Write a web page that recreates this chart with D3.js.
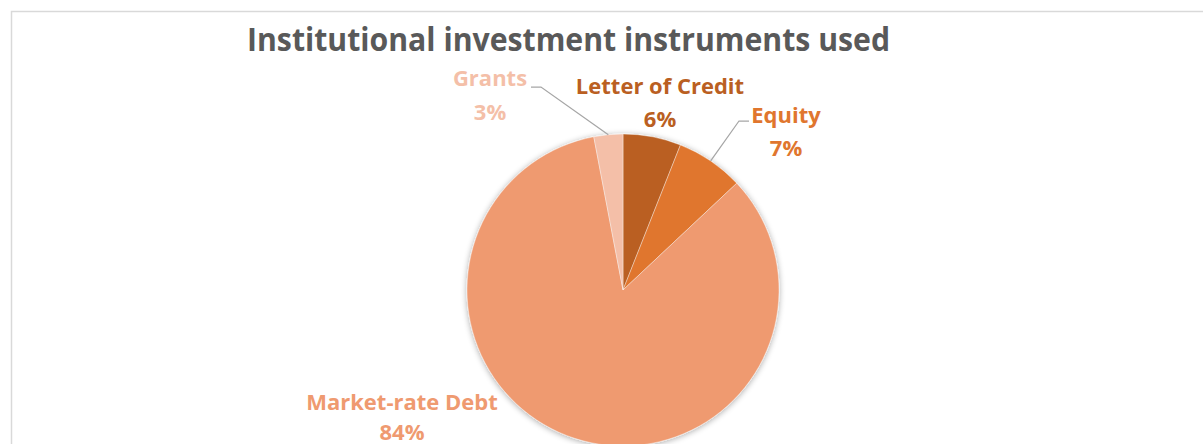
<!DOCTYPE html>
<html>
<head>
<meta charset="utf-8">
<script src="https://cdn.jsdelivr.net/npm/d3@7"></script>
<style>
  html, body { margin: 0; padding: 0; background: #fff; }
  svg { display: block; }
  text { font-family: "Open Sans", Lato, sans-serif; font-weight: bold; }
</style>
</head>
<body>
<svg id="chart" width="1203" height="444"></svg>
<script>
// ---- data ----
const categories = ["Letter of Credit", "Equity", "Market-rate Debt", "Grants"];
const values = [6, 7, 84, 3];
const percentLabels = ["6%", "7%", "84%", "3%"];
const colors = ["#BA5F22", "#E0762E", "#EF9A70", "#F4BFA8"];
const title = "Institutional investment instruments used";

// ---- layout ----
const W = 1203, H = 444;
const cx = 623, cy = 290, R = 156;
// label anchor (center of first line baseline) and leader settings
const labelPos = [
  { x: 660, y: 94, gap: 33, leader: false },
  { x: 786, y: 123, gap: 33, leader: true, lx0: 749, ly: 121, side: "left" },
  { x: 402, y: 410, gap: 30, leader: false },
  { x: 490, y: 86, gap: 34, leader: true, lx0: 531, ly: 87, side: "right" }
];

const svg = d3.select("#chart");

// chart border (frame continues beyond window)
svg.append("path")
  .attr("d", `M11.5,${H + 5} L11.5,11.5 L${W + 5},11.5`)
  .attr("fill", "none")
  .attr("stroke", "#D9D9D9")
  .attr("stroke-width", 1.5);

// title
svg.append("text")
  .attr("x", 247)
  .attr("y", 51)
  .attr("text-anchor", "start")
  .attr("font-size", 32)
  .attr("fill", "#595959")
  .attr("textLength", 643)
  .attr("lengthAdjust", "spacingAndGlyphs")
  .text(title);

// shadow filter
const defs = svg.append("defs");
const f = defs.append("filter").attr("id", "shadow")
  .attr("x", "-20%").attr("y", "-20%").attr("width", "140%").attr("height", "140%");
f.append("feGaussianBlur").attr("in", "SourceAlpha").attr("stdDeviation", 3).attr("result", "blur");
f.append("feOffset").attr("in", "blur").attr("dx", 0).attr("dy", 1).attr("result", "off");
f.append("feComponentTransfer").attr("in", "off").attr("result", "shadow")
  .append("feFuncA").attr("type", "linear").attr("slope", 0.35);
const merge = f.append("feMerge");
merge.append("feMergeNode").attr("in", "shadow");
merge.append("feMergeNode").attr("in", "SourceGraphic");

const pie = d3.pie().sort(null).value(d => d)(values);
const arc = d3.arc().innerRadius(0).outerRadius(R);

const g = svg.append("g").attr("transform", `translate(${cx},${cy})`);
g.append("g").attr("filter", "url(#shadow)")
  .selectAll("path")
  .data(pie)
  .join("path")
  .attr("d", arc)
  .attr("fill", (d, i) => colors[i])
  .attr("stroke", "#ffffff")
  .attr("stroke-opacity", 0.5)
  .attr("stroke-width", 0.75);

// leader lines
pie.forEach((d, i) => {
  const lp = labelPos[i];
  if (!lp.leader) return;
  const a = (d.startAngle + d.endAngle) / 2;
  const ex = cx + R * Math.sin(a);
  const ey = cy - R * Math.cos(a);
  const bend = lp.side === "right" ? lp.lx0 + 10 : lp.lx0 - 10;
  svg.append("polyline")
    .attr("points", `${lp.lx0},${lp.ly} ${bend},${lp.ly} ${ex},${ey}`)
    .attr("fill", "none")
    .attr("stroke", "#A6A6A6")
    .attr("stroke-width", 1.25);
});

// labels
pie.forEach((d, i) => {
  const lp = labelPos[i];
  const t = svg.append("text")
    .attr("text-anchor", "middle")
    .attr("font-size", 22)
    .attr("fill", colors[i]);
  t.append("tspan").attr("x", lp.x).attr("y", lp.y).text(categories[i]);
  t.append("tspan").attr("x", lp.x).attr("y", lp.y + lp.gap).text(percentLabels[i]);
});
</script>
</body>
</html>
